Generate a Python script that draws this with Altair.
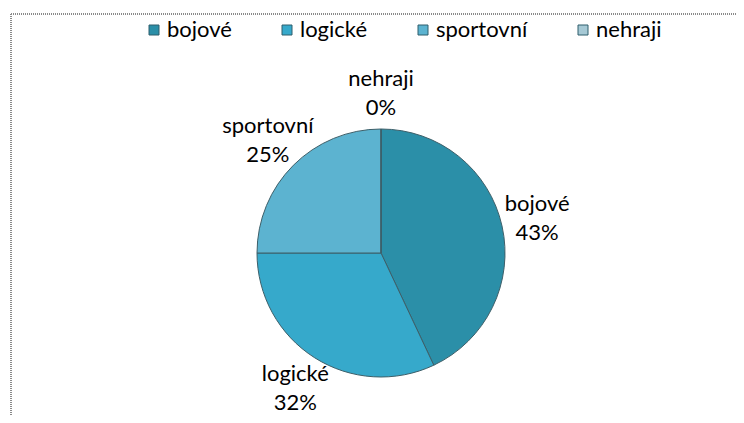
import altair as alt
import pandas as pd

categories = ["bojové", "logické", "sportovní", "nehraji"]
values = [43, 32, 25, 0]
colors = ["#2b8fa8", "#36a9cb", "#5cb3d0", "#a6c9d5"]

df = pd.DataFrame({"kat": categories, "val": values, "order": list(range(len(categories)))})
df["label"] = df["kat"] + "\n" + df["val"].astype(str) + "%"

FONT = "Lato"
cx, cy = 373, 245

color = alt.Color(
    "kat:N",
    scale=alt.Scale(domain=categories, range=colors),
    sort=categories,
    legend=alt.Legend(
        title=None, orient="none", direction="horizontal",
        legendX=135, legendY=11, symbolType="square", symbolSize=100,
        symbolStrokeColor="#2f5e6c", symbolStrokeWidth=1,
        labelFont=FONT, labelFontSize=22, labelColor="#000000",
        columnPadding=44, symbolOffset=0, labelOffset=2,
    ),
)

base = alt.Chart(df)

pie = base.mark_arc(outerRadius=124, stroke="#3d5f69", strokeWidth=1).encode(
    theta=alt.Theta("val:Q", stack=True),
    color=color,
    order=alt.Order("order:Q"),
    x=alt.value(cx), y=alt.value(cy),
)

labels = base.mark_text(
    radius=160, font=FONT, fontSize=22, lineBreak="\n", lineHeight=29,
    align="center", baseline="middle", color="#000000", dy=-14,
).encode(
    theta=alt.Theta("val:Q", stack=True),
    order=alt.Order("order:Q"),
    text="label:N",
    x=alt.value(cx), y=alt.value(cy),
)

border_top = base.mark_rule(color="#8a8a8a", strokeDash=[1, 1], strokeWidth=2).encode(
    x=alt.value(3), x2=alt.value(728), y=alt.value(6)
)
border_left = base.mark_rule(color="#8a8a8a", strokeDash=[1, 1], strokeWidth=2).encode(
    x=alt.value(3), y=alt.value(6), y2=alt.value(407)
)

chart = alt.layer(border_top, border_left, pie, labels).properties(
    width=728, height=407, padding=0, autosize=alt.AutoSizeParams(type="none"),
    background="white",
).configure_view(stroke=None)

chart.save("out.html", embed_options={"renderer": "svg", "actions": False})
